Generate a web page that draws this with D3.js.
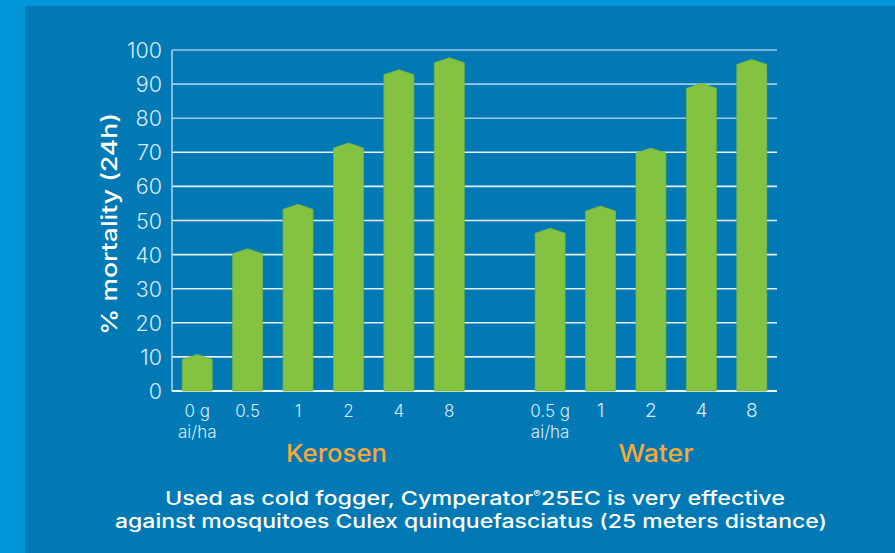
<!DOCTYPE html>
<html><head><meta charset="utf-8">
<script src="https://cdn.jsdelivr.net/npm/d3@7"></script>
<style>
html,body{margin:0;padding:0;background:#0096d9;}
svg{display:block;font-family:Inter,"Open Sans",sans-serif;}
</style></head>
<body>
<svg id="chart" width="895" height="553"></svg>
<script>
// ---- data ----
const keroseneDoses = ["0 g|ai/ha", "0.5", "1", "2", "4", "8"];
const keroseneValues = [10, 41, 54, 72, 93.5, 97];
const waterDoses = ["0.5 g|ai/ha", "1", "2", "4", "8"];
const waterValues = [47, 53.5, 70.5, 89.5, 96.5];
const groupLabels = ["Kerosen", "Water"];
const yTicks = [0, 10, 20, 30, 40, 50, 60, 70, 80, 90, 100];
const yTitle = "% mortality (24h)";
const caption1a = "Used as cold fogger, Cymperator";
const caption1b = "25EC is very effective";
const caption2 = "against mosquitoes Culex quinquefasciatus (25 meters distance)";

const bars = [];
keroseneDoses.forEach((d, i) => bars.push({key: "K" + i, label: d, value: keroseneValues[i], group: 0, idx: i}));
const gapKey = "gap";
waterDoses.forEach((d, i) => bars.push({key: "W" + i, label: d, value: waterValues[i], group: 1, idx: i}));
const domainKeys = bars.filter(b => b.group === 0).map(b => b.key)
  .concat([gapKey]).concat(bars.filter(b => b.group === 1).map(b => b.key));

const svg = d3.select("#chart");
// background panels
svg.append("rect").attr("x", 0).attr("y", 0).attr("width", 895).attr("height", 553).attr("fill", "#0096d9");
svg.append("rect").attr("x", 25).attr("y", 6).attr("width", 870).attr("height", 547).attr("fill", "#0079b4");

const x = d3.scaleBand().domain(domainKeys).range([172, 777]).paddingInner(0.406).paddingOuter(0.203);
const y = d3.scaleLinear().domain([0, 100]).range([391, 50]);

// grid lines
svg.append("g").selectAll("line").data(yTicks.filter(t => t > 0)).join("line")
  .attr("x1", 172).attr("x2", 777)
  .attr("y1", d => y(d)).attr("y2", d => y(d))
  .attr("stroke", d => d >= 80 ? "#9bcbea" : "#e4f1fa")
  .attr("stroke-width", 1.6);

// y axis line
svg.append("line").attr("x1", 172).attr("x2", 172).attr("y1", y(100)).attr("y2", y(0))
  .attr("stroke", "#a4d2ee").attr("stroke-width", 1.6);
// baseline
svg.append("line").attr("x1", 172).attr("x2", 777).attr("y1", y(0)).attr("y2", y(0))
  .attr("stroke", "#eef6fc").attr("stroke-width", 1.8);

// y tick labels
svg.append("g").selectAll("text").data(yTicks).join("text")
  .attr("x", 162).attr("y", d => y(d) + 8)
  .attr("text-anchor", "end")
  .attr("fill", "#d9ebf7")
  .attr("font-size", 21.5).attr("font-weight", 300)
  .text(d => d);

// y title
svg.append("text")
  .attr("transform", "translate(117," + 224 + ") rotate(-90)")
  .attr("text-anchor", "middle")
  .attr("fill", "#ffffff").attr("font-size", 22).attr("font-weight", 500)
  .attr("textLength", 222).attr("lengthAdjust", "spacingAndGlyphs")
  .text(yTitle);

// bars with pointed tops
const peak = 2.5;
svg.append("g").selectAll("path").data(bars).join("path")
  .attr("d", d => {
    const x0 = x(d.key), x1 = x0 + x.bandwidth(), xc = x0 + x.bandwidth() / 2;
    const ys = y(d.value) + peak, yp = y(d.value) - peak, y0 = y(0);
    return `M${x0},${y0}L${x0},${ys}L${xc},${yp}L${x1},${ys}L${x1},${y0}Z`;
  })
  .attr("fill", "#83c341")
  .attr("stroke", "#72b545").attr("stroke-width", 0.8);

// x tick labels
const xl = svg.append("g");
bars.forEach(b => {
  const cx = x(b.key) + x.bandwidth() / 2;
  const parts = b.label.split("|");
  const big = b.group === 1 && parts.length === 1;
  const t = xl.append("text").attr("text-anchor", "middle").attr("fill", "#dbecf8")
    .attr("font-size", big ? 19 : 17).attr("font-weight", 300);
  t.append("tspan").attr("x", cx).attr("y", 417).text(parts[0]);
  if (parts[1]) t.append("tspan").attr("x", cx).attr("y", 438).text(parts[1]);
});

// group labels
const groupAnchors = [
  x("K3") + x.bandwidth() / 2 - 12,
  x("W2") + x.bandwidth() / 2 + 5
];
const groupWidths = [101, 75];
svg.append("g").selectAll("text").data(groupLabels).join("text")
  .attr("x", (d, i) => groupAnchors[i]).attr("y", 462)
  .attr("text-anchor", "middle")
  .attr("fill", "#f6a83a").attr("font-size", 24.5).attr("font-weight", 500)
  .attr("textLength", (d, i) => groupWidths[i]).attr("lengthAdjust", "spacingAndGlyphs")
  .text(d => d);

// caption
const c1 = svg.append("text").attr("x", 475).attr("y", 505).attr("text-anchor", "middle")
  .attr("fill", "#ffffff").attr("font-size", 18.5).attr("font-weight", 500)
  .attr("textLength", 620).attr("lengthAdjust", "spacingAndGlyphs");
c1.append("tspan").text(caption1a);
c1.append("tspan").attr("font-size", 9).attr("dy", -8).text("®");
c1.append("tspan").attr("dy", 8).text(caption1b);

svg.append("text").attr("x", 471).attr("y", 528).attr("text-anchor", "middle")
  .attr("fill", "#ffffff").attr("font-size", 18.5).attr("font-weight", 500)
  .attr("textLength", 712).attr("lengthAdjust", "spacingAndGlyphs")
  .text(caption2);
</script>
</body></html>
